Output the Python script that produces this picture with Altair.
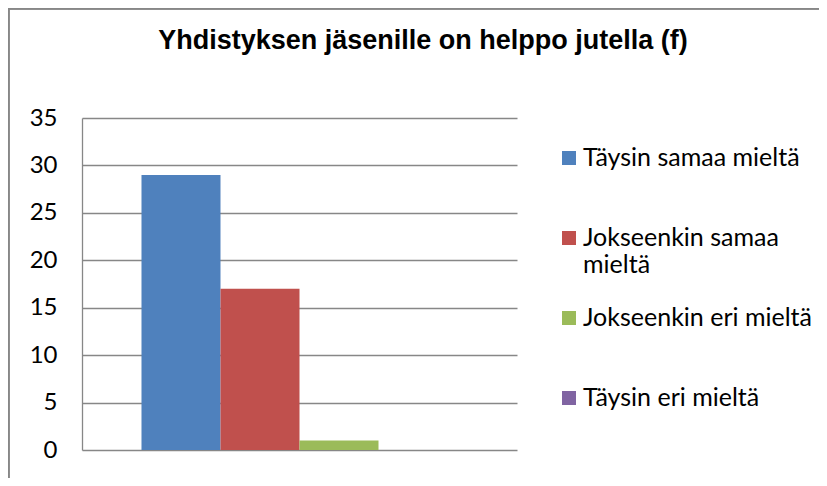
import altair as alt
import pandas as pd

title_text = "Yhdistyksen jäsenille on helppo jutella (f)"
series = ["Täysin samaa mieltä", "Jokseenkin samaa mieltä", "Jokseenkin eri mieltä", "Täysin eri mieltä"]
legend_labels = ["Täysin samaa mieltä", "Jokseenkin samaa\nmieltä", "Jokseenkin eri mieltä", "Täysin eri mieltä"]
values = [29, 17, 1, 0]
colors = ["#4F81BD", "#C0504D", "#9BBB59", "#8064A2"]
y_ticks = [0, 5, 10, 15, 20, 25, 30, 35]

df = pd.DataFrame({"series": series, "value": values, "label": legend_labels})
tdf = pd.DataFrame({"title": [title_text]})

GRID = "#878787"
FONT = "Lato"
FS = 24
LFS = 25

color = alt.Color("series:N", scale=alt.Scale(domain=series, range=colors), legend=None)

bars = alt.Chart(df).mark_bar().encode(
    x=alt.X("series:N", sort=series,
            scale=alt.Scale(paddingInner=0, paddingOuter=0.753),
            axis=None),
    y=alt.Y("value:Q", scale=alt.Scale(domain=[0, 35], nice=False),
            axis=alt.Axis(values=y_ticks, title=None, grid=True, gridColor=GRID,
                          gridWidth=1.3, domain=True, domainColor=GRID, domainWidth=1.3,
                          ticks=False, labelPadding=25, labelFont=FONT,
                          labelFontSize=FS, labelColor="#000000")),
    color=color,
)

leg_y = alt.Y("series:N", sort=series, axis=None,
              scale=alt.Scale(type="point", range=[40, 280], padding=0))

leg_sq = alt.Chart(df).mark_square(size=196, opacity=1).encode(
    x=alt.value(487),
    y=leg_y,
    color=color,
)

leg_txt = alt.Chart(df).mark_text(
    align="left", baseline="top", dy=-0.49 * LFS, font=FONT, fontSize=LFS,
    lineBreak="\n", lineHeight=27, color="#000000"
).encode(
    x=alt.value(501),
    y=leg_y,
    text="label:N",
)

title = alt.Chart(tdf).mark_text(
    align="center", baseline="alphabetic", font="Liberation Sans", fontSize=27,
    fontWeight="bold", color="#000000"
).encode(
    x=alt.value(341), y=alt.value(-69.5), text="title:N"
)

border_left = alt.Chart(df).mark_rule(color=GRID, strokeWidth=1.5).encode(
    x=alt.value(-73.25), y=alt.value(-110), y2=alt.value(360)
)
border_top = alt.Chart(df).mark_rule(color=GRID, strokeWidth=1.5).encode(
    x=alt.value(-74), x2=alt.value(737), y=alt.value(-109.25)
)

chart = alt.layer(bars, border_left, border_top, title, alt.layer(leg_sq, leg_txt)).resolve_scale(
    y="independent", x="independent"
).properties(
    width=435, height=332,
    autosize=alt.AutoSizeParams(type="none"),
    padding={"left": 74, "top": 110, "right": 302, "bottom": 28},
).configure_view(stroke=None)

chart.save("out.html", embed_options={"renderer": "svg", "actions": False})
